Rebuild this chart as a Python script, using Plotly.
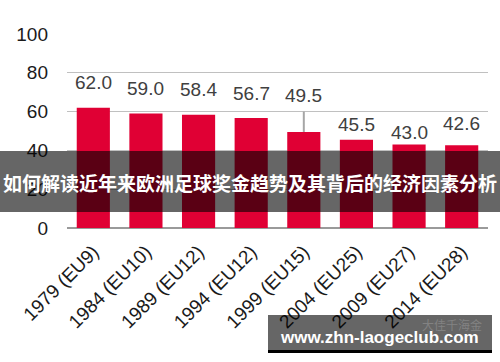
import plotly.graph_objects as go

categories = ["1979 (EU9)", "1984 (EU10)", "1989 (EU12)", "1994 (EU12)",
              "1999 (EU15)", "2004 (EU25)", "2009 (EU27)", "2014 (EU28)"]
values = [62.0, 59.0, 58.4, 56.7, 49.5, 45.5, 43.0, 42.6]
y_ticks = [0, 20, 40, 60, 80, 100]
title_text = "如何解读近年来欧洲足球奖金趋势及其背后的经济因素分析"
watermark = "www.zhn-laogeclub.com"
faint_mark = "大佳千海金"

# label offsets above bars (pixels, styling)
label_shift = [25, 25, 25, 25, 36, 15, 12, 22]

W, H = 500, 362
L, R, T, B = 67, 12, 34, 134
PW, PH = W - L - R, H - T - B

def px_x(x):
    return (x - L) / PW

def px_y(y):
    return (H - B - y) / PH

fig = go.Figure()
fig.add_trace(go.Bar(
    x=categories, y=values,
    marker=dict(color="#E00034", line=dict(width=0)),
    width=0.63, hoverinfo="skip",
))

annotations = []
for c, v, s in zip(categories, values, label_shift):
    annotations.append(dict(
        x=c, y=v, xref="x", yref="y", text=f"{v:.1f}", showarrow=False,
        yshift=s, font=dict(family="Liberation Sans, Arial", size=19, color="#404040"),
    ))

shapes = []
# leader line for the 1999 label
shapes.append(dict(type="line", xref="x", yref="y", x0=categories[4], x1=categories[4],
                   y0=values[4], y1=60, line=dict(color="#A6A6A6", width=2), layer="above"))
# dark banner
shapes.append(dict(type="rect", xref="paper", yref="paper",
                   x0=px_x(0), x1=px_x(W), y0=px_y(212), y1=px_y(151),
                   fillcolor="rgba(0,0,0,0.6)", line=dict(width=0), layer="above"))
# watermark box
shapes.append(dict(type="rect", xref="paper", yref="paper",
                   x0=px_x(268), x1=px_x(492), y0=px_y(350), y1=px_y(315),
                   fillcolor="rgba(0,0,0,0.6)", line=dict(width=0), layer="above"))
shapes.append(dict(type="rect", xref="paper", yref="paper",
                   x0=px_x(268), x1=px_x(492), y0=px_y(353), y1=px_y(350),
                   fillcolor="#000000", line=dict(width=0), layer="above"))

annotations.append(dict(
    x=px_x(250), y=px_y(182), xref="paper", yref="paper", text=f"<b>{title_text}</b>",
    showarrow=False, xanchor="center", yanchor="middle",
    font=dict(family="Noto Sans CJK SC", size=19, color="#FFFFFF"),
))
annotations.append(dict(
    x=px_x(452), y=px_y(324), xref="paper", yref="paper", text=faint_mark,
    showarrow=False, xanchor="center", yanchor="middle",
    font=dict(family="Noto Sans CJK SC", size=12, color="rgba(150,150,150,0.6)"),
))
annotations.append(dict(
    x=px_x(379), y=px_y(337), xref="paper", yref="paper", text=f"<b>{watermark}</b>",
    showarrow=False, xanchor="center", yanchor="middle",
    font=dict(family="Liberation Sans, Arial", size=17, color="#FFFFFF"),
))

fig.update_layout(
    width=W, height=H,
    margin=dict(l=L, r=R, t=T, b=B, autoexpand=False),
    paper_bgcolor="white", plot_bgcolor="white",
    showlegend=False, bargap=0.37,
    annotations=annotations, shapes=shapes,
    xaxis=dict(
        tickangle=-45, tickfont=dict(family="Liberation Sans, Arial", size=19, color="#1A1A1A"),
        showgrid=False, showline=False, ticks="", fixedrange=True, ticklabelstandoff=8,
    ),
    yaxis=dict(
        range=[0, 100], tickvals=y_ticks, showgrid=True, gridcolor="#C0C0C0", gridwidth=1,
        zeroline=True, zerolinecolor="#9A9A9A", zerolinewidth=2,
        tickfont=dict(family="Liberation Sans, Arial", size=19, color="#1A1A1A"),
        ticks="", ticklabelstandoff=18, fixedrange=True,
    ),
)

fig.write_html("out.html")
